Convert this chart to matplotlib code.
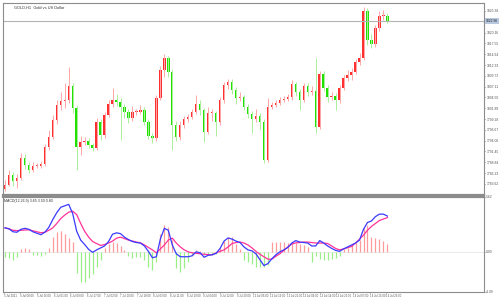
import numpy as np
import matplotlib
matplotlib.use("Agg")
import matplotlib.pyplot as plt
from matplotlib.transforms import blended_transform_factory

plt.rcParams['font.family'] = ['Liberation Sans', 'DejaVu Sans']

# GOLD H1 candles (open of first bar, then closes / highs / lows per bar)
first_open = 1782.5
closes = [1783.4, 1785.8, 1784.3, 1785.1, 1789.9, 1788.2, 1787.0, 1788.0, 1788.0, 1788.4,
          1792.5, 1795.0, 1799.1, 1802.7, 1803.6, 1803.9, 1807.3, 1802.0, 1792.5, 1793.7,
          1794.0, 1793.0, 1792.3, 1798.6, 1795.4, 1800.3, 1802.9, 1803.9, 1803.4, 1802.2,
          1801.0, 1799.5, 1801.0, 1801.0, 1801.5, 1798.6, 1795.2, 1794.7, 1804.4, 1811.1,
          1814.0, 1810.7, 1797.9, 1795.0, 1797.9, 1799.3, 1799.8, 1801.0, 1802.9, 1801.5,
          1796.2, 1800.8, 1800.8, 1798.6, 1803.9, 1807.5, 1808.2, 1806.3, 1804.4, 1804.6,
          1802.2, 1800.5, 1799.3, 1800.0, 1798.6, 1789.4, 1802.2, 1802.7, 1803.2, 1803.9,
          1804.1, 1804.6, 1807.8, 1805.8, 1803.9, 1807.3, 1805.8, 1806.1, 1797.4, 1810.2,
          1806.8, 1804.6, 1804.9, 1803.9, 1806.8, 1809.2, 1809.9, 1810.7, 1813.1, 1814.0,
          1825.4, 1818.4, 1817.4, 1821.3, 1824.2, 1824.2, 1823.0]
highs = [1784.6, 1787.0, 1786.5, 1786.0, 1791.0, 1790.8, 1788.9, 1788.8, 1788.6, 1789.1,
         1793.3, 1796.6, 1800.2, 1803.9, 1805.9, 1808.1, 1811.9, 1808.0, 1802.6, 1795.3,
         1794.9, 1794.6, 1793.6, 1799.6, 1799.2, 1801.1, 1804.0, 1806.8, 1805.4, 1804.3,
         1802.9, 1801.8, 1802.4, 1801.7, 1802.6, 1802.1, 1799.2, 1795.9, 1805.2, 1812.0,
         1814.9, 1814.6, 1811.4, 1798.8, 1798.7, 1800.0, 1800.6, 1801.7, 1805.2, 1803.8,
         1802.0, 1802.3, 1801.6, 1801.3, 1804.6, 1808.3, 1809.0, 1808.9, 1807.0, 1805.8,
         1805.2, 1802.9, 1801.3, 1801.8, 1800.8, 1799.2, 1804.4, 1803.5, 1803.9, 1804.6,
         1804.9, 1805.3, 1808.6, 1808.3, 1806.5, 1808.1, 1807.9, 1807.2, 1814.0, 1811.0,
         1810.8, 1807.5, 1805.7, 1805.5, 1807.5, 1810.0, 1811.2, 1811.6, 1813.9, 1815.3,
         1826.3, 1826.0, 1819.8, 1822.0, 1825.4, 1825.6, 1824.8]
lows = [1781.8, 1783.0, 1783.2, 1782.6, 1784.6, 1787.3, 1786.2, 1786.4, 1787.4, 1787.5,
        1788.0, 1791.9, 1794.4, 1798.2, 1801.5, 1801.9, 1803.1, 1800.8, 1787.0, 1790.5,
        1793.0, 1792.4, 1791.5, 1791.9, 1794.3, 1794.8, 1799.7, 1802.3, 1802.5, 1794.2,
        1799.5, 1798.3, 1798.9, 1800.2, 1800.4, 1797.9, 1794.5, 1793.6, 1794.1, 1803.8,
        1809.4, 1809.5, 1791.8, 1793.9, 1794.2, 1797.1, 1798.6, 1799.2, 1800.4, 1800.2,
        1793.7, 1795.6, 1798.9, 1795.2, 1797.8, 1803.2, 1806.6, 1805.3, 1802.9, 1803.6,
        1801.4, 1799.6, 1795.9, 1798.6, 1796.7, 1788.7, 1789.0, 1801.6, 1802.1, 1802.6,
        1803.3, 1803.6, 1804.0, 1804.9, 1801.4, 1803.3, 1804.8, 1805.1, 1795.9, 1797.0,
        1806.0, 1803.4, 1803.9, 1801.5, 1803.2, 1806.2, 1808.5, 1808.8, 1810.1, 1812.4,
        1813.6, 1817.2, 1816.5, 1816.8, 1820.6, 1823.2, 1822.4]

# MACD pane
macd_line = [2.45, 2.35, 2.05, 2.0, 2.3, 2.4, 2.3, 2.05, 1.9, 1.75,
             2.0, 2.5, 3.3, 4.0, 4.55, 4.7, 4.85, 3.9, 2.1, 1.2,
             0.75, 0.25, -0.05, 0.2, 0.4, 0.6, 1.05, 1.8, 1.94, 1.86,
             1.5, 1.25, 1.05, 0.95, 0.9, 0.6, 0.05, -0.6, -0.5, 1.3,
             2.4, 2.2, 0.7, -0.2, -0.5, -0.5, -0.5, -0.4, 0.0, -0.1,
             -0.55, -0.35, -0.3, -0.15, 0.35, 1.1, 1.42, 1.3, 1.1, 0.95,
             0.5, 0.2, 0.1, -0.2, -0.8, -1.4, -1.2, -0.7, -0.3, 0.0,
             0.2, 0.45, 0.9, 1.15, 1.0, 0.95, 0.9, 0.6, 0.6, 1.15,
             0.9, 0.6, 0.35, 0.15, 0.05, 0.3, 0.5, 0.7, 0.9, 1.2,
             2.3, 3.0, 3.15, 3.6, 3.85, 3.85, 3.65]
signal_line = [2.45, 2.35, 2.2, 2.17, 2.2, 2.23, 2.25, 2.15, 2.05, 1.95,
               2.0, 2.2, 2.45, 2.9, 3.4, 3.75, 4.05, 4.15, 3.8, 2.9,
               2.1, 1.5, 1.05, 0.85, 0.65, 0.75, 0.9, 1.1, 1.4, 1.5,
               1.35, 1.2, 1.1, 1.0, 0.92, 0.7, 0.45, 0.2, -0.1, 0.3,
               0.7, 1.2, 1.4, 0.9, 0.5, 0.2, 0.0, -0.1, -0.15, -0.2,
               -0.25, -0.28, -0.3, -0.1, 0.05, 0.2, 0.5, 0.85, 0.95, 1.0,
               0.9, 0.7, 0.4, 0.05, -0.25, -0.5, -0.75, -0.75, -0.45, -0.2,
               0.15, 0.5, 0.8, 0.92, 0.95, 1.0, 1.0, 0.95, 0.9, 0.9,
               0.9, 0.85, 0.6, 0.35, 0.2, 0.3, 0.42, 0.55, 0.9, 1.3,
               1.7, 2.2, 2.6, 2.9, 3.2, 3.35, 3.5]
histogram = [-0.5, -0.6, -0.8, -0.5, 0.3, 0.4, 0.3, -0.3, -0.35, -0.4,
             -0.2, 0.4, 1.5, 2.0, 2.1, 1.8, 1.4, 1.0, -2.2, -3.1,
             -3.1, -2.7, -2.3, -1.5, -0.8, 0.4, 0.8, 1.0, 0.9, 0.6,
             0.2, -0.4, -0.6, -0.5, -0.5, -0.8, -1.5, -1.9, -1.0, 1.8,
             2.7, 2.5, 1.2, -1.6, -2.1, -1.6, -1.0, -0.3, 0.2, 0.1,
             -0.3, -0.3, -0.3, -0.2, 0.4, 1.1, 1.5, 1.5, 0.8, 0.3,
             -0.8, -1.0, -1.2, -1.5, -1.5, -1.5, -1.3, 1.0, 1.0, 1.0,
             1.0, 0.9, 0.9, 0.9, 0.8, 0.7, 0.5, -1.0, -0.4, -0.7,
             -0.8, -0.8, -0.7, -0.6, -0.4, 0.3, 0.4, 0.7, 0.9, 1.2,
             2.4, 2.7, 1.5, 1.4, 1.3, 1.1, 0.8]

price_ticks = [1825.38, 1820.16, 1817.55, 1814.94, 1812.33, 1809.72, 1807.11, 1804.50,
               1801.89, 1799.28, 1796.67, 1794.06, 1791.45, 1788.84, 1786.23, 1783.62]
current_price = 1822.96
macd_ticks = [5.62, 0.00, -4.09]
time_labels = ["5 Jul 2021", "5 Jul 08:00", "5 Jul 16:00", "6 Jul 01:00", "6 Jul 09:00",
               "6 Jul 17:00", "7 Jul 02:00", "7 Jul 10:00", "7 Jul 18:00", "8 Jul 03:00",
               "8 Jul 11:00", "8 Jul 19:00", "9 Jul 04:00", "9 Jul 12:00", "9 Jul 20:00",
               "12 Jul 05:00", "12 Jul 13:00", "12 Jul 21:00", "13 Jul 06:00", "13 Jul 14:00",
               "13 Jul 22:00", "14 Jul 07:00", "14 Jul 15:00", "14 Jul 23:00"]

opens = [first_open] + closes[:-1]
n = len(closes)
x = np.arange(n)
o = np.array(opens)
c = np.array(closes)
up = c >= o

frame = '#8c8c8c'
fig = plt.figure(figsize=(5, 3), dpi=100)
ax1 = fig.add_axes([0.006, 0.35, 0.962, 0.64])
ax2 = fig.add_axes([0.006, 0.027, 0.962, 0.317], sharex=ax1)

# candles
ax1.vlines(x[up], np.array(lows)[up], np.array(highs)[up], color='#ffa8a8', lw=0.7)
ax1.vlines(x[~up], np.array(lows)[~up], np.array(highs)[~up], color='#aaf09a', lw=0.7)
body = np.maximum(np.abs(c - o), 0.25)
ax1.bar(x[up], body[up], bottom=o[up], width=0.6, color='#ff3030', linewidth=0)
ax1.bar(x[~up], body[~up], bottom=c[~up], width=0.6, color='#22e000', linewidth=0)
ax1.axhline(current_price, color='#b4b4b4', lw=0.8)

ax1.set_xlim(-0.5, 120.25)
ax1.set_ylim(1780.94, 1827.31)
ax1.yaxis.tick_right()
ax1.set_yticks(price_ticks)
ax1.set_yticklabels([f"{v:.2f}" for v in price_ticks])
tr = blended_transform_factory(ax1.transAxes, ax1.transData)
ax1.text(1.004, current_price, f"{current_price:.2f}", transform=tr, fontsize=2.4,
         va='center', ha='left', color='#222222',
         bbox=dict(boxstyle='square,pad=0.25', fc='#b8c8e0', ec='none'))
ax1.text(0.022, 0.978, "GOLD,H1  Gold vs US Dollar", transform=ax1.transAxes,
         fontsize=2.8, va='center', ha='left', color='#333333')
ax1.tick_params(axis='x', bottom=False, labelbottom=False)

# MACD
hx = np.array(histogram)
ax2.vlines(x[hx >= 0], 0, hx[hx >= 0], color='#ff9a9a', lw=0.9)
ax2.vlines(x[hx < 0], 0, hx[hx < 0], color='#9aee88', lw=0.9)
ax2.axhline(0, color='#e6e6e6', lw=0.6, zorder=0)
ax2.plot(x, signal_line, color='#ff3399', lw=0.9)
ax2.plot(x, macd_line, color='#3a3aff', lw=0.9)
ax2.set_ylim(-4.09, 5.62)
ax2.yaxis.tick_right()
ax2.set_yticks(macd_ticks)
ax2.set_yticklabels([f"{v:.2f}" for v in macd_ticks])
ax2.text(0.003, 0.955, "MACD(12,26,9) 3.65 3.50 0.80", transform=ax2.transAxes,
         fontsize=2.6, va='center', ha='left', color='#333333')

step = 16.7 / 4.0
xt = -0.3 + np.arange(len(time_labels)) * step
ax2.set_xticks(xt)
ax2.set_xticklabels(time_labels, ha='left')

for ax in (ax1, ax2):
    for s in ax.spines.values():
        s.set_color(frame)
        s.set_linewidth(0.8)
    ax.tick_params(axis='both', labelsize=2.4, length=1.0, width=0.5, colors='#555555',
                   pad=0.6)
ax2.tick_params(axis='x', labelsize=2.0)
ax2.spines['top'].set_linewidth(1.6)
ax1.spines['bottom'].set_linewidth(1.6)

fig.savefig("out.png", dpi=100)
